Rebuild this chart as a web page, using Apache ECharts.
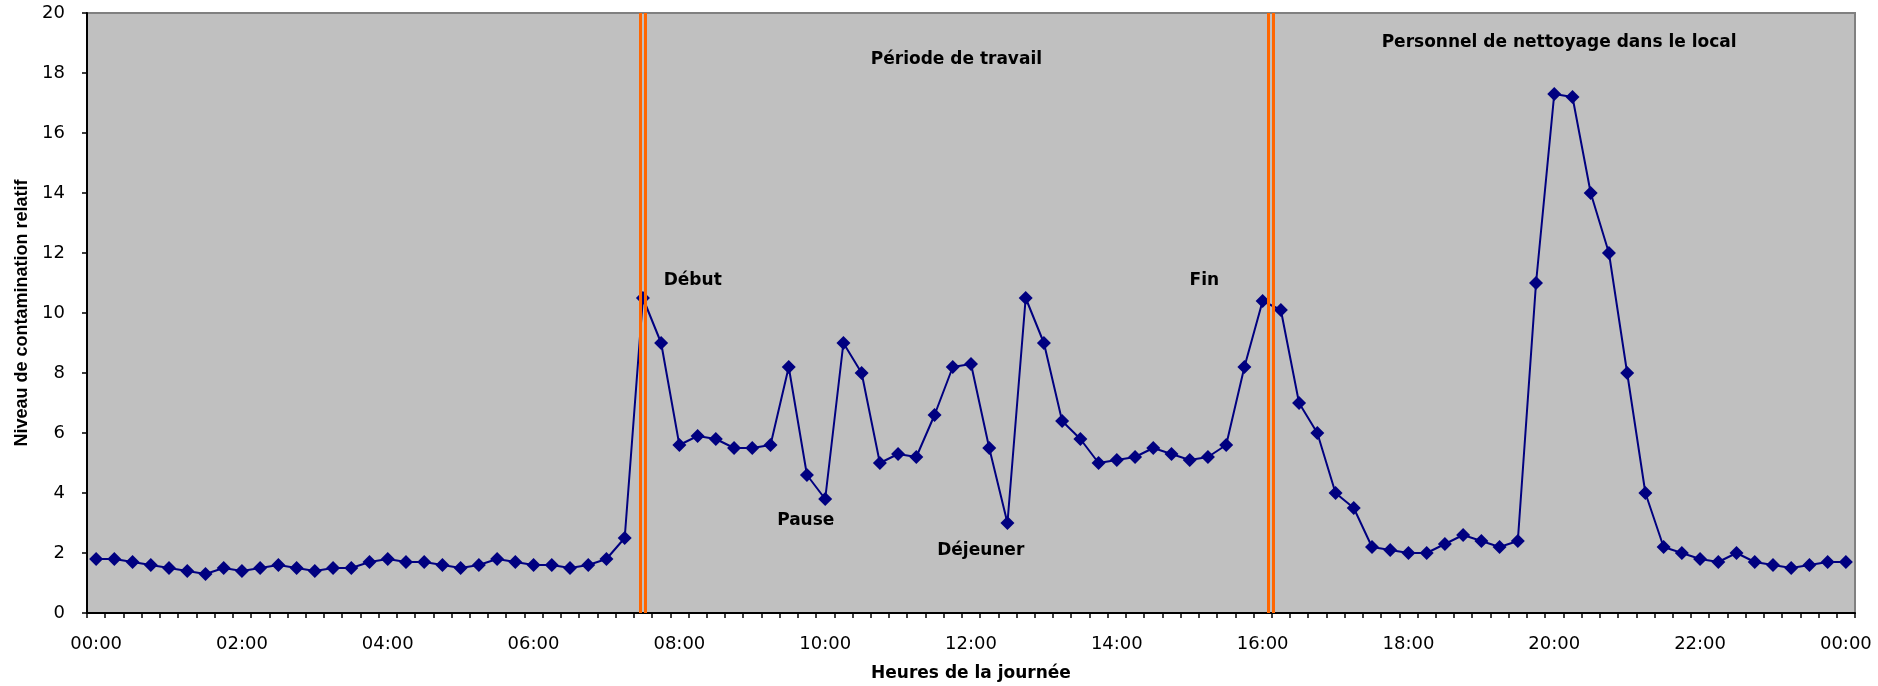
<!DOCTYPE html>
<html>
<head>
<meta charset="utf-8">
<title>Niveau de contamination relatif</title>
<script src="https://cdn.jsdelivr.net/npm/echarts@6/dist/echarts.min.js"></script>
<style>
  html, body { margin: 0; padding: 0; background: #ffffff; }
  #chart { width: 1878px; height: 686px; }
</style>
</head>
<body>
<div id="chart"></div>
<script>
// Time of day, one category every 15 minutes, from 00:00 to the next 00:00
const STEP_MINUTES = 15;
const categories = [];
for (let m = 0; m <= 24 * 60; m += STEP_MINUTES) {
  const h = Math.floor(m / 60) % 24;
  const mm = m % 60;
  categories.push(String(h).padStart(2, '0') + ':' + String(mm).padStart(2, '0'));
}

// Relative contamination level, one reading per category
const contamination = [
  1.8, 1.8, 1.7, 1.6, 1.5, 1.4, 1.3, 1.5, 1.4, 1.5,
  1.6, 1.5, 1.4, 1.5, 1.5, 1.7, 1.8, 1.7, 1.7, 1.6,
  1.5, 1.6, 1.8, 1.7, 1.6, 1.6, 1.5, 1.6, 1.8, 2.5,
  10.5, 9.0, 5.6, 5.9, 5.8, 5.5, 5.5, 5.6, 8.2, 4.6,
  3.8, 9.0, 8.0, 5.0, 5.3, 5.2, 6.6, 8.2, 8.3, 5.5,
  3.0, 10.5, 9.0, 6.4, 5.8, 5.0, 5.1, 5.2, 5.5, 5.3,
  5.1, 5.2, 5.6, 8.2, 10.4, 10.1, 7.0, 6.0, 4.0, 3.5,
  2.2, 2.1, 2.0, 2.0, 2.3, 2.6, 2.4, 2.2, 2.4, 11.0,
  17.3, 17.2, 14.0, 12.0, 8.0, 4.0, 2.2, 2.0, 1.8, 1.7,
  2.0, 1.7, 1.6, 1.5, 1.6, 1.7, 1.7
];

// Y axis scale
const yMin = 0;
const yMax = 20;
const yStep = 2;

// Start and end of the working period, in minutes since midnight
const workBoundaries = [450, 967];

// Text notes, anchored in (minutes since midnight, contamination level)
const noteTexts = ['Période de travail', 'Personnel de nettoyage dans le local', 'Début', 'Fin', 'Pause', 'Déjeuner'];
const noteMinutes = [708, 1204, 491, 912, 584, 728];
const noteLevels = [18.45, 19.03, 11.08, 11.07, 3.09, 2.08];

const GRID = { left: 87, right: 23, top: 13, bottom: 73 };
const chartEl = document.getElementById('chart');
const chart = echarts.init(chartEl, null, { renderer: 'canvas' });

// Each boundary is a pair of thin orange rules, 5 px apart
const bandPx = (chartEl.clientWidth - GRID.left - GRID.right) / categories.length;
const halfGapMinutes = 2.5 * STEP_MINUTES / bandPx;
const boundaryLines = [];
workBoundaries.forEach(b => {
  boundaryLines.push({ xAxis: b - halfGapMinutes });
  boundaryLines.push({ xAxis: b + halfGapMinutes });
});

const tickFont = { fontFamily: 'DejaVu Sans', fontSize: 18, color: '#000000' };

const option = {
  animation: false,
  grid: {
    left: GRID.left, right: GRID.right, top: GRID.top, bottom: GRID.bottom,
    show: true, backgroundColor: '#C0C0C0', borderColor: '#808080', borderWidth: 2,
    containLabel: false, outerBoundsMode: 'none'
  },
  xAxis: [
    {
      type: 'category',
      data: categories,
      boundaryGap: true,
      name: 'Heures de la journée',
      nameLocation: 'middle',
      nameGap: 52,
      nameTextStyle: { fontFamily: 'DejaVu Sans', fontWeight: 'bold', fontSize: 17, color: '#000000' },
      axisLine: { show: true, onZero: false, lineStyle: { color: '#000000', width: 2 } },
      axisTick: { show: true, interval: 0, alignWithLabel: false, length: 5, lineStyle: { color: '#000000', width: 1.5 } },
      axisLabel: Object.assign({ interval: 7, margin: 22 }, tickFont),
      splitLine: { show: false }
    },
    {
      type: 'value',
      min: -STEP_MINUTES / 2,
      max: 24 * 60 + STEP_MINUTES / 2,
      show: false,
      position: 'bottom',
      axisLine: { onZero: false },
      splitLine: { show: false }
    }
  ],
  yAxis: {
    type: 'value',
    min: yMin, max: yMax, interval: yStep,
    name: 'Niveau de contamination relatif',
    nameLocation: 'middle',
    nameGap: 56,
    nameTextStyle: { fontFamily: 'Liberation Sans', fontWeight: 'bold', fontSize: 18, color: '#000000' },
    axisLine: { show: true, onZero: false, lineStyle: { color: '#000000', width: 2 } },
    axisTick: { show: true, length: 5, lineStyle: { color: '#000000', width: 1.5 } },
    axisLabel: Object.assign({ margin: 22 }, tickFont),
    splitLine: { show: false }
  },
  series: [
    {
      name: 'Contamination',
      type: 'line',
      xAxisIndex: 0,
      yAxisIndex: 0,
      data: contamination,
      symbol: 'diamond',
      symbolSize: 14,
      showSymbol: true,
      showAllSymbol: true,
      lineStyle: { color: '#000080', width: 2 },
      itemStyle: { color: '#000080' },
      z: 2
    },
    {
      name: 'Bornes',
      type: 'line',
      xAxisIndex: 1,
      yAxisIndex: 0,
      data: [],
      z: 4,
      markLine: {
        silent: true,
        symbol: ['none', 'none'],
        label: { show: false },
        lineStyle: { color: '#FF6600', width: 3, type: 'solid' },
        emphasis: { disabled: true },
        data: boundaryLines
      }
    }
  ]
};

chart.setOption(option);

// Place the notes through the chart's own coordinate conversion
const notes = noteTexts.map((t, i) => {
  const p = chart.convertToPixel({ xAxisIndex: 1, yAxisIndex: 0 }, [noteMinutes[i], noteLevels[i]]);
  return {
    type: 'text',
    x: p[0], y: p[1],
    z: 10,
    silent: true,
    style: {
      text: t,
      fontFamily: 'DejaVu Sans',
      fontWeight: 'bold',
      fontSize: 17,
      fill: '#000000',
      align: 'center',
      verticalAlign: 'middle'
    }
  };
});
chart.setOption({ graphic: notes });
</script>
</body>
</html>
